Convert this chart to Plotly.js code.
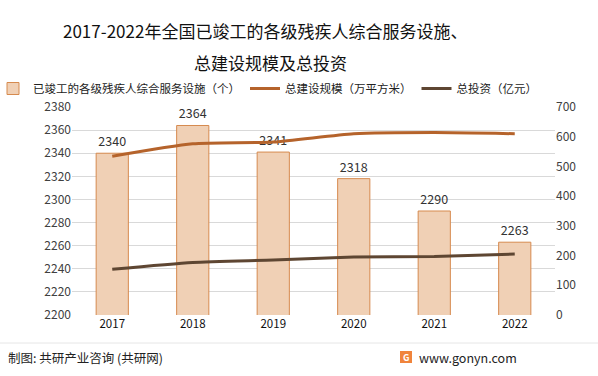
<!DOCTYPE html>
<html><head><meta charset="utf-8">
<script src="https://cdn.plot.ly/plotly-3.0.1.min.js"></script>
<style>html,body{margin:0;padding:0;background:#fff;}</style>
</head><body><div id="chart" style="width:598px;height:376px;"></div>
<script>
const years = ['2017','2018','2019','2020','2021','2022'];
const facilities = [2340, 2364, 2341, 2318, 2290, 2263];
const scale = [534, 576, 582, 610, 614, 610];
const investment = [154, 177, 185, 195, 197, 205];
const titleLines = ['2017-2022年全国已竣工的各级残疾人综合服务设施、', '总建设规模及总投资'];
const FONT = '"Noto Sans CJK SC", "Noto Sans", sans-serif';

const traces = [
  {type:'bar', x:years, y:facilities, name:'已竣工的各级残疾人综合服务设施（个）',
   marker:{color:'#F0D0B5', line:{color:'#D68A4E', width:1}},
   text:facilities.map(String), textposition:'outside', cliponaxis:false,
   textfont:{size:12.5, color:'#333', family:FONT}},
  {type:'scatter', mode:'lines', x:years, y:scale, yaxis:'y2', name:'总建设规模（万平方米）',
   line:{color:'#B5632B', width:3, shape:'spline', smoothing:0.6}},
  {type:'scatter', mode:'lines', x:years, y:investment, yaxis:'y2', name:'总投资（亿元）',
   line:{color:'#5E4632', width:3, shape:'spline', smoothing:0.6}}
];

const H = 208, W = 483, L = 72, T = 107;
const px = v => (v - L) / W;
const py = v => (T + H - v) / H;
const layout = {
  width:598, height:376,
  margin:{l:72, r:43, t:107, b:61, autoexpand:false},
  paper_bgcolor:'#fff', plot_bgcolor:'#fff',
  font:{family:FONT, color:'#404040', size:12},
  bargap:0.6,
  showlegend:true,
  legend:{orientation:'h', x:px(-7), y:py(74), xanchor:'left', yanchor:'top',
    font:{size:11.5, color:'#222'}, itemwidth:30, tracegroupgap:0, bgcolor:'rgba(0,0,0,0)'},
  xaxis:{type:'category', showline:false, ticks:'', tickfont:{size:11.5, color:'#111'}, showgrid:false},
  yaxis:{range:[2200,2380], dtick:20, showgrid:true, gridcolor:'#d9d9d9', gridwidth:1, zeroline:false,
    tickfont:{size:12, color:'#404040'}, ticks:'', automargin:false},
  yaxis2:{range:[0,700], dtick:100, overlaying:'y', side:'right', showgrid:false, zeroline:false,
    tickfont:{size:12, color:'#404040'}, automargin:false},
  shapes:[
    {type:'line', xref:'paper', yref:'paper', x0:px(0), x1:px(598), y0:py(343), y1:py(343), line:{color:'#e6e6e6', width:1}},
    {type:'rect', xref:'paper', yref:'paper', x0:px(400), x1:px(412), y0:py(351), y1:py(363),
     fillcolor:'#F0843C', line:{width:0}}
  ],
  annotations:[
    {text:titleLines[0], xref:'paper', yref:'paper', x:px(265), y:py(30), xanchor:'center', yanchor:'middle',
     showarrow:false, font:{size:17, color:'#111'}},
    {text:titleLines[1], xref:'paper', yref:'paper', x:px(270), y:py(62), xanchor:'center', yanchor:'middle',
     showarrow:false, font:{size:17, color:'#111'}},
    {text:'制图: 共研产业咨询 (共研网)', xref:'paper', yref:'paper', x:px(6), y:py(357), xanchor:'left', yanchor:'middle',
     showarrow:false, font:{size:12.5, color:'#222'}},
    {text:'<b>G</b>', xref:'paper', yref:'paper', x:px(406), y:py(357), xanchor:'center', yanchor:'middle',
     showarrow:false, font:{size:9, color:'#fff'}},
    {text:'www.gonyn.com', xref:'paper', yref:'paper', x:px(519), y:py(357), xanchor:'right', yanchor:'middle',
     showarrow:false, font:{size:12.5, color:'#222'}}
  ]
};

Plotly.newPlot('chart', traces, layout, {displayModeBar:false, staticPlot:true});
</script></body></html>
